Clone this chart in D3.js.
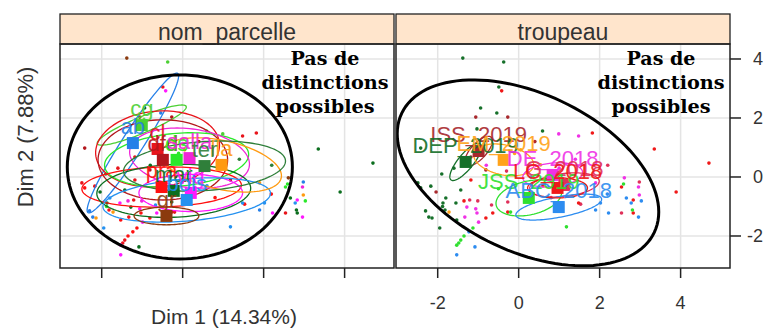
<!DOCTYPE html>
<html>
<head>
<meta charset="utf-8">
<script src="https://cdn.jsdelivr.net/npm/d3@7"></script>
<style>
  body { margin: 0; background: #fff; }
  svg { display: block; }
</style>
</head>
<body>
<svg id="chart" width="767" height="329"></svg>
<script>
// ---- data ----
const xTicks = [-2, 0, 2, 4];
const yTicks = [-2, 0, 2, 4];
const panelTitles = ["nom_parcelle", "troupeau"];
const xTitle = "Dim 1 (14.34%)";
const yTitle = "Dim 2 (7.88%)";
const noteLines = ["Pas de", "distinctions", "possibles"];

// nom_parcelle levels: mean, ellipse [sx, sy, rho]
const parcelleNames = ["ab", "cg", "cl", "dfd", "ds", "salla", "pra", "mar", "vig", "bois", "lla", "gr", "ter"];
const parcelleColors = ["#2680E8", "#4CD034", "#E8141B", "#B3161C", "#2BE82B", "#F026D8", "#FF1010",
  "#0B6E1E", "#FF19FF", "#2491F0", "#FF9A10", "#8B3A0E", "#2F7F3A"];
const parcelleMeans = [[-1.23, 1.15], [-1.01, 1.76], [-0.62, 0.95], [-0.49, 0.58], [-0.15, 0.58], [0.17, 0.64],
  [-0.52, -0.34], [-0.22, -0.47], [0.20, -0.54], [0.10, -0.78], [0.96, 0.41], [-0.40, -1.32], [0.54, 0.37]];
const parcelleEllipses = [[1.13, 2.37, 0.96], [1.1, 0.68, 0.9], [1.53, 1.29, 0.1], [1.6, 1.36, 0], [1.78, 0.92, 0.2],
  [1.48, 1.02, -0.2], [1.97, 0.68, 0.1], [1.9, 0.9, 0.1], [1.28, 0.63, 0], [2.07, 0.75, 0.3], [1.48, 0.92, -0.4],
  [0.8, 0.3, 0], [2.0, 0.85, 0.2]];

// troupeau levels
const troupeauNames = ["ISS_2019", "DEP_2019", "EM_2019", "DE_2018", "G_2018", "JSS_2019", "ABC_2018", "LC_2018"];
const troupeauColors = ["#A8282D", "#16702A", "#FFA31A", "#F032E6", "#E0305A", "#30E030", "#2D8CF0", "#F01818"];
const troupeauMeans = [[-0.99, 0.88], [-1.31, 0.51], [-0.37, 0.58], [0.84, 0.07], [1.13, -0.27], [0.25, -0.71],
  [0.99, -1.02], [0.96, -0.37]];
const troupeauEllipses = [[0.34, 0.5, 0.7], [0.39, 0.63, 0.8], [0.74, 0.54, -0.3], [0.74, 0.41, 0.2], [0.86, 0.41, 0.3],
  [0.81, 0.61, 0.3], [1.06, 0.44, 0.6], [0.74, 0.34, 0]];

// individuals: [dim1, dim2, parcelle, troupeau]
const individuals = [
  [-1.38, 4.03, 11, 1], [-0.37, 3.90, 1, 1], [-0.49, 3.05, 2, 1], [-0.94, 2.34, 7, 1], [-0.54, 2.17, 0, 1],
  [-1.03, 1.63, 1, 1], [0.59, 1.56, 4, 1], [-2.49, -0.20, 2, 1], [-2.17, -0.31, 2, 1], [-1.80, -0.71, 9, 1],
  [-1.87, -0.88, 7, 1], [-1.55, -0.88, 8, 1], [-1.82, -1.12, 6, 1], [-2.22, -1.36, 0, 1], [-2.14, -1.39, 10, 1],
  [-1.53, -1.46, 6, 1], [-1.95, -1.73, 9, 1], [-2.42, 0.98, 3, 1], [-1.43, -0.44, 7, 1], [-2.42, -0.37, 6, 1],
  [-1.06, 2.03, 11, 0], [-0.27, 2.03, 3, 0], [-2.04, -0.51, 7, 0], [-0.81, 0.24, 3, 0], [-1.18, 0.68, 2, 0],
  [-1.72, -1.19, 10, 2], [0.05, 0.92, 10, 2], [0.54, 0.41, 5, 2],
  [-0.42, 2.92, 8, 7], [1.82, 1.49, 2, 7], [3.35, 0.95, 7, 7], [4.70, 0.47, 7, 7], [2.54, -0.34, 4, 7],
  [2.98, -0.17, 0, 4], [2.83, -0.78, 8, 7], [3.89, -0.51, 7, 7], [2.54, -1.22, 2, 4], [2.83, -1.22, 7, 7],
  [1.53, -0.92, 6, 4], [-1.18, -0.10, 2, 7], [-1.35, -0.81, 5, 7], [-1.21, -0.78, 2, 4], [-0.81, -1.39, 6, 7],
  [-0.67, -0.95, 9, 4], [-0.64, -1.22, 8, 7], [-0.27, -0.85, 7, 4], [-0.27, -1.19, 2, 7], [-1.01, -0.81, 5, 4],
  [1.18, -0.10, 3, 4], [1.48, -0.88, 9, 7],
  [0.99, 1.46, 1, 3], [1.48, 1.39, 2, 3], [2.61, -0.03, 11, 3], [2.96, -0.34, 5, 3], [2.98, -0.61, 10, 3],
  [-1.28, -1.02, 7, 3], [-1.06, -1.08, 8, 3], [-1.33, -1.36, 2, 3], [-1.03, -1.22, 6, 3], [-0.99, -1.53, 8, 3],
  [2.66, -0.71, 7, 6], [2.78, -0.88, 9, 6], [3.03, -0.81, 4, 6], [2.22, -1.22, 8, 6], [2.96, -1.36, 8, 6],
  [1.90, -1.12, 0, 6], [2.19, -0.58, 6, 6], [-1.23, -1.86, 6, 6], [-1.08, -2.37, 7, 6], [-1.53, -2.64, 8, 6],
  [2.02, -0.88, 9, 6],
  [2.59, -0.24, 4, 5], [2.81, -1.12, 7, 5], [1.18, -1.69, 9, 5], [-0.20, -1.19, 2, 5], [-1.13, -1.73, 6, 5],
  [-1.35, -2.00, 6, 5], [-1.48, -2.24, 2, 5], [-1.53, -2.31, 5, 5], [-1.43, -2.14, 2, 5],
  [-0.80, 0.40, 7, 3], [-0.30, 0.20, 2, 4], [0.30, 0.00, 5, 6], [0.60, -0.30, 9, 7], [1.00, 0.30, 10, 3],
  [-0.50, -0.40, 8, 5], [0.20, -0.60, 0, 6], [0.80, -0.70, 6, 4], [-1.60, 0.30, 2, 1], [-1.90, 0.10, 12, 1],
  [1.40, 0.60, 12, 3], [-0.10, 0.80, 4, 2], [0.40, 1.20, 3, 0], [2.20, 0.40, 12, 4], [1.90, -0.20, 10, 3],
  [-2.30, -1.15, 0, 1], [-1.88, -1.00, 4, 1]
];

// hand-drawn black ellipses: [cx, cy, sx, sy, rho]
const markEllipses = [[-0.07, 0.34, 2.78, 3.12, 0], [0.23, 0.14, 3.23, 3.15, -0.42]];

// ---- layout ----
const svg = d3.select("#chart");
const panelX = [[60, 394], [396, 730]];
const panelTop = 44, panelBottom = 268, stripTop = 14;
const xDomain = [-3.03, 5.22], yDomain = [-3.085, 4.508];
const y = d3.scaleLinear().domain(yDomain).range([panelBottom, panelTop]);
const sans = "'Liberation Sans', Arial, sans-serif";

function ellipsePoints(c, e) {
  const r = e[2], k = Math.sqrt(1 - r * r);
  return d3.range(0, 2 * Math.PI, Math.PI / 60).map(t =>
    [c[0] + e[0] * Math.cos(t), c[1] + e[1] * (r * Math.cos(t) + k * Math.sin(t))]);
}

const panels = [
  { names: parcelleNames, colors: parcelleColors, means: parcelleMeans, ell: parcelleEllipses, key: 2 },
  { names: troupeauNames, colors: troupeauColors, means: troupeauMeans, ell: troupeauEllipses, key: 3 }
];

panels.forEach((p, i) => {
  const x = d3.scaleLinear().domain(xDomain).range(panelX[i]);
  const x0 = panelX[i][0], x1 = panelX[i][1];
  const g = svg.append("g");

  g.append("clipPath").attr("id", "clip" + i)
    .append("rect").attr("x", x0).attr("y", panelTop).attr("width", x1 - x0).attr("height", panelBottom - panelTop);

  // grid
  g.selectAll(".gx").data(xTicks).enter().append("line")
    .attr("x1", d => x(d)).attr("x2", d => x(d)).attr("y1", panelTop).attr("y2", panelBottom)
    .attr("stroke", "#e4e4e4").attr("stroke-width", 1.5);
  g.selectAll(".gy").data(yTicks).enter().append("line")
    .attr("x1", x0).attr("x2", x1).attr("y1", d => y(d)).attr("y2", d => y(d))
    .attr("stroke", "#e4e4e4").attr("stroke-width", 1.5);

  const inner = g.append("g").attr("clip-path", "url(#clip" + i + ")");
  const line = d3.line().x(d => x(d[0])).y(d => y(d[1])).curve(d3.curveLinearClosed);

  // individuals
  inner.selectAll("circle").data(individuals).enter().append("circle")
    .attr("cx", d => x(d[0])).attr("cy", d => y(d[1])).attr("r", 1.8)
    .attr("fill", d => p.colors[d[p.key]]);

  // confidence ellipses
  inner.selectAll(".ell").data(p.means).enter().append("path")
    .attr("d", (m, j) => line(ellipsePoints(m, p.ell[j])))
    .attr("fill", "none").attr("stroke", (m, j) => p.colors[j]).attr("stroke-width", 1.3);

  // means
  inner.selectAll("rect.mean").data(p.means).enter().append("rect")
    .attr("x", d => x(d[0]) - 6).attr("y", d => y(d[1]) - 6).attr("width", 12).attr("height", 12)
    .attr("fill", (d, j) => p.colors[j]);

  // labels
  inner.selectAll("text.lab").data(p.means).enter().append("text")
    .attr("x", d => x(d[0])).attr("y", d => y(d[1]) - 9)
    .attr("text-anchor", "middle").attr("font-family", sans).attr("font-size", 22)
    .attr("fill", (d, j) => p.colors[j]).attr("opacity", 0.9)
    .text((d, j) => p.names[j]);

  // black ellipse
  inner.append("path")
    .attr("d", line(ellipsePoints(markEllipses[i].slice(0, 2), markEllipses[i].slice(2))))
    .attr("fill", "none").attr("stroke", "#000").attr("stroke-width", 3);

  // note
  const cx = (x0 + x1) / 2 + 98;
  const noteWidths = [69, 127, 99];
  g.selectAll("text.note").data(noteLines).enter().append("text")
    .attr("x", cx).attr("y", (d, j) => 65 + j * 24)
    .attr("text-anchor", "middle").attr("font-family", "'DejaVu Serif', serif")
    .attr("font-weight", "bold").attr("font-size", 18)
    .attr("textLength", (d, j) => noteWidths[j]).attr("lengthAdjust", "spacingAndGlyphs")
    .text(d => d);

  // frame and strip
  g.append("rect").attr("x", x0).attr("y", stripTop).attr("width", x1 - x0).attr("height", panelTop - stripTop)
    .attr("fill", "#FFE5CC").attr("stroke", "#222").attr("stroke-width", 1.3);
  g.append("text").attr("x", (x0 + x1) / 2).attr("y", 40)
    .attr("text-anchor", "middle").attr("font-family", sans).attr("font-size", 23).attr("fill", "#333")
    .text(panelTitles[i]);
  g.append("rect").attr("x", x0).attr("y", panelTop).attr("width", x1 - x0).attr("height", panelBottom - panelTop)
    .attr("fill", "none").attr("stroke", "#222").attr("stroke-width", 1.5);

  // bottom ticks
  g.selectAll(".tx").data(xTicks).enter().append("line")
    .attr("x1", d => x(d)).attr("x2", d => x(d)).attr("y1", panelBottom).attr("y2", panelBottom + 10)
    .attr("stroke", "#222").attr("stroke-width", 1.5);
  if (i === 1) {
    g.selectAll(".lx").data(xTicks).enter().append("text")
      .attr("x", d => x(d)).attr("y", 309).attr("text-anchor", "middle")
      .attr("font-family", sans).attr("font-size", 18).attr("fill", "#333")
      .text(d => d);
    g.selectAll(".ty").data(yTicks).enter().append("line")
      .attr("x1", x1).attr("x2", x1 + 11).attr("y1", d => y(d)).attr("y2", d => y(d))
      .attr("stroke", "#222").attr("stroke-width", 1.5);
    g.selectAll(".ly").data(yTicks).enter().append("text")
      .attr("x", 763).attr("y", d => y(d) + 6).attr("text-anchor", "end")
      .attr("font-family", sans).attr("font-size", 18).attr("fill", "#333")
      .text(d => d);
  }
});

// axis titles
svg.append("text").attr("x", 224).attr("y", 324).attr("text-anchor", "middle")
  .attr("font-family", sans).attr("font-size", 21).attr("fill", "#333").text(xTitle);
svg.append("text").attr("transform", "translate(33,137) rotate(-90)").attr("text-anchor", "middle")
  .attr("font-family", sans).attr("font-size", 22).attr("fill", "#333").text(yTitle);
</script>
</body>
</html>
